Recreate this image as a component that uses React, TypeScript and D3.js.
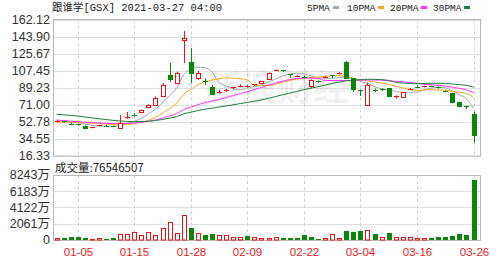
import React from 'react';
import * as d3 from 'd3';

const dates = ['12-30','12-31','01-04','01-05','01-06','01-07','01-08','01-11','01-12','01-13','01-14','01-15','01-19','01-20','01-21','01-22','01-25','01-26','01-27','01-28','01-29','02-01','02-02','02-03','02-04','02-05','02-08','02-09','02-10','02-11','02-12','02-16','02-17','02-18','02-19','02-22','02-23','02-24','02-25','02-26','03-01','03-02','03-03','03-04','03-05','03-08','03-09','03-10','03-11','03-12','03-15','03-16','03-17','03-18','03-19','03-22','03-23','03-24','03-25','03-26'];

const opens = [53.0,53.5,50.8,50.0,48.5,46.0,48.4,48.8,48.3,46.7,56.5,60.5,63.8,69.0,70.8,80.4,102.8,94.6,140.0,117.0,100.0,96.2,90.3,84.6,85.8,88.5,91.0,90.5,92.5,94.8,98.2,107.8,108.0,103.5,101.5,100.8,91.1,96.0,100.0,102.6,104.3,117.0,99.3,86.3,70.8,87.2,88.4,88.6,80.4,79.7,87.0,90.4,90.2,91.0,90.2,86.2,83.3,73.5,70.0,60.9];
const highs = [54.5,54.0,52.0,50.8,49.0,47.2,49.5,49.4,48.8,60.1,63.3,62.0,66.0,71.5,80.0,94.0,115.7,106.5,149.8,131.4,107.1,99.3,92.2,87.0,88.0,90.3,92.8,92.5,93.2,96.5,105.5,108.8,108.5,103.8,103.0,102.0,98.0,97.0,101.8,102.8,106.0,118.0,99.5,87.5,94.6,88.5,88.6,89.0,81.0,85.0,89.0,91.8,91.5,91.3,90.5,86.5,84.0,74.0,70.2,63.6];
const lows = [52.5,51.8,49.5,48.7,46.2,45.8,48.0,47.8,47.0,46.0,56.0,58.8,63.0,68.5,70.3,79.5,95.7,94.0,115.6,94.0,97.5,92.0,81.5,83.0,85.0,88.0,89.8,89.5,91.0,94.0,97.5,107.5,106.0,100.0,100.8,99.0,88.6,94.5,99.5,99.5,103.5,99.0,84.5,80.4,69.7,84.5,85.5,79.5,77.5,79.0,86.5,89.5,89.5,90.0,88.3,84.5,73.0,68.5,66.5,29.9];
const closes = [53.8,52.2,50.4,49.4,46.5,46.8,49.0,48.5,47.6,52.0,58.5,60.1,65.2,70.5,77.9,92.2,98.5,105.3,142.0,104.6,105.5,95.7,82.5,85.0,87.2,89.6,91.4,90.8,93.0,96.0,104.6,108.4,106.8,102.6,102.3,100.4,97.5,95.7,101.2,102.0,104.6,99.3,87.9,85.8,92.2,86.8,88.0,80.2,80.8,84.4,88.2,90.0,91.0,90.6,88.8,85.6,73.7,70.0,69.5,38.8];
// closes of the 29 sessions before the first bar (for moving averages)
const priorCloses = [68,70,72,75,77,76,74,73,72,74.1,66,62,60,58,57,56,55,54,53,52,51,50.5,50,51,52,53,54,54.2,53.5];
const volumes = [2.9,2.9,4.2,4.2,2.9,1.7,2.9,1.7,2.1,7.2,7.2,10.6,6.3,10.6,6.3,15.6,22.4,8.5,31.7,15.6,9.3,5.9,8.0,6.3,6.3,3.4,3.4,4.7,4.2,2.1,2.1,3.4,2.1,2.1,2.1,6.3,3.4,1.3,2.1,7.2,2.1,11.8,10.6,11.8,12.7,8.0,3.4,9.3,4.2,4.2,4.2,2.1,2.1,2.1,3.8,3.8,5.1,8.0,5.9,76.546507].map(v => v * 1e6);

const priceTicks = [16.33, 34.55, 52.78, 71.00, 89.23, 107.45, 125.67, 143.90, 162.12];
const volTicks = [0, 20610000, 41220000, 61830000, 82430000];
const volTickLabels = ['0', '2061万', '4122万', '6183万', '8243万'];
const xLabels = ['01-05','01-15','01-28','02-09','02-22','03-04','03-16','03-26'];
const maPeriods = [5, 10, 20, 30];
const maNames = ['5PMA', '10PMA', '20PMA', '30PMA'];
const maColors = ['#a8a8a8', '#f5a623', '#ff33ff', '#1f7f3f'];
const titleText = '跟谁学[GSX] 2021-03-27 04:00';

const RED = '#ee1111';
const GREEN = '#0a860a';

export default function App() {
  const L = 53, R = 481, pTop = 19.5, pBot = 156, vTop = 175, vBot = 240;
  const x = d3.scalePoint<string>().domain(dates).range([56.5, 473.5]);
  const y = d3.scaleLinear().domain([16.33, 162.12]).range([pBot, pTop]);
  const vy = d3.scaleLinear().domain([0, 82430000]).range([vBot, vTop]);
  const cx = (i: number) => Math.round(x(dates[i]) as number) + 0.5;

  const full = priorCloses.concat(closes);
  const np = priorCloses.length;
  const mas = maPeriods.map(n => closes.map((_, i) => d3.mean(full.slice(np + i - n + 1, np + i + 1)) as number));
  const line = d3.line<number>().x((_, i) => x(dates[i]) as number).y(d => y(d)).curve(d3.curveMonotoneX);

  const font = '"Liberation Sans", Arial, sans-serif';
  const cjk = '"Liberation Mono", "Noto Sans CJK SC", monospace';

  const legendX = [307, 347, 390, 433];

  return (
    <svg width={500} height={260} style={{ position: 'absolute', left: 0, top: 0, background: '#fff' }}>
      <defs>
        <clipPath id="pclip"><rect x={L} y={pTop} width={R - L} height={pBot - pTop} /></clipPath>
      </defs>
      <text x={52} y={11} fontFamily={cjk} fontSize={10.5} fill="#222">{titleText}</text>
      {maNames.map((n, i) => (
        <g key={n}>
          <text x={legendX[i]} y={11} fontFamily={cjk} fontSize={9.5} fill="#222">{n}</text>
          <rect x={legendX[i] + (n.length === 4 ? 26 : 31)} y={6} width={6} height={3} fill={maColors[i]} />
        </g>
      ))}
      {/* price grid */}
      {priceTicks.map(t => (
        <g key={t}>
          <line x1={L} x2={R} y1={Math.round(y(t)) + 0.5} y2={Math.round(y(t)) + 0.5} stroke="#e0e0e0" />
          <text x={50} y={y(t)} dy="0.35em" textAnchor="end" fontFamily={font} fontSize={12.5} fill="#333">{t.toFixed(2)}</text>
        </g>
      ))}
      {/* volume grid */}
      {volTicks.map((t, i) => (
        <g key={t}>
          <line x1={L} x2={R} y1={Math.round(vy(t)) + 0.5} y2={Math.round(vy(t)) + 0.5} stroke="#e0e0e0" />
          <text x={50} y={vy(t)} dy="0.35em" textAnchor="end" fontFamily={'"Liberation Sans", "Noto Sans CJK SC", sans-serif'} fontSize={12.5} fill="#333">{volTickLabels[i]}</text>
        </g>
      ))}
      {/* vertical dashed grid and x labels */}
      {xLabels.map(d => {
        const xx = Math.round(x(d) as number) + 0.5;
        return (
          <g key={d}>
            <line x1={xx} x2={xx} y1={pTop} y2={pBot} stroke="#cfcfcf" strokeDasharray="3,3" />
            <line x1={xx} x2={xx} y1={vTop} y2={vBot} stroke="#cfcfcf" strokeDasharray="3,3" />
            <text x={xx} y={256} textAnchor="middle" fontFamily={font} fontSize={11.5} fill="#f01818">{d}</text>
          </g>
        );
      })}
      {/* watermark */}
      <text x={205} y={101} fontFamily={'"Noto Sans CJK SC", sans-serif'} fontWeight={700} fontSize={36} fill="#000" opacity={0.05}>新浪财经</text>
      {/* panel borders */}
      <rect x={L + 0.5} y={pTop} width={R - L - 1} height={pBot - pTop} fill="none" stroke="#b8b8b8" />
      <rect x={L + 0.5} y={vTop + 0.5} width={R - L - 1} height={vBot - vTop} fill="none" stroke="#b8b8b8" />
      {/* MA lines */}
      <g clipPath="url(#pclip)">
        {mas.map((m, k) => (
          <path key={k} d={line(m) || ''} fill="none" stroke={maColors[k]} strokeWidth={1} />
        ))}
      </g>
      {/* candles */}
      {dates.map((d, i) => {
        const up = closes[i] >= opens[i];
        const c = up ? RED : GREEN;
        const xx = cx(i);
        const top = Math.round(y(Math.max(opens[i], closes[i])));
        const bot = Math.round(y(Math.min(opens[i], closes[i])));
        const h = Math.max(bot - top, 1);
        return (
          <g key={d}>
            <line x1={xx} x2={xx} y1={y(highs[i])} y2={y(lows[i])} stroke={c} />
            {h <= 1 ? (
              <line x1={xx - 2.5} x2={xx + 2.5} y1={top + 0.5} y2={top + 0.5} stroke={c} />
            ) : (
              <rect x={xx - 2} y={top + 0.5} width={4} height={h} fill={up ? '#fff' : c} stroke={c} />
            )}
          </g>
        );
      })}
      {/* volume */}
      <text x={55} y={172} fontFamily={'"Noto Sans CJK SC", sans-serif'} fontSize={11.5} fill="#222">{'成交量:' + Math.round(volumes[volumes.length - 1])}</text>
      {dates.map((d, i) => {
        const prev = i === 0 ? priorCloses[priorCloses.length - 1] : closes[i - 1];
        const up = closes[i] >= prev;
        const c = up ? RED : GREEN;
        const xx = cx(i);
        const top = Math.round(vy(volumes[i]));
        const h = Math.max(vBot - top, 1);
        return up ? (
          <rect key={d} x={xx - 2} y={top + 0.5} width={4} height={h - 0.5} fill="#fff" stroke={c} />
        ) : (
          <rect key={d} x={xx - 2.5} y={top} width={5} height={h} fill={c} />
        );
      })}
    </svg>
  );
}
